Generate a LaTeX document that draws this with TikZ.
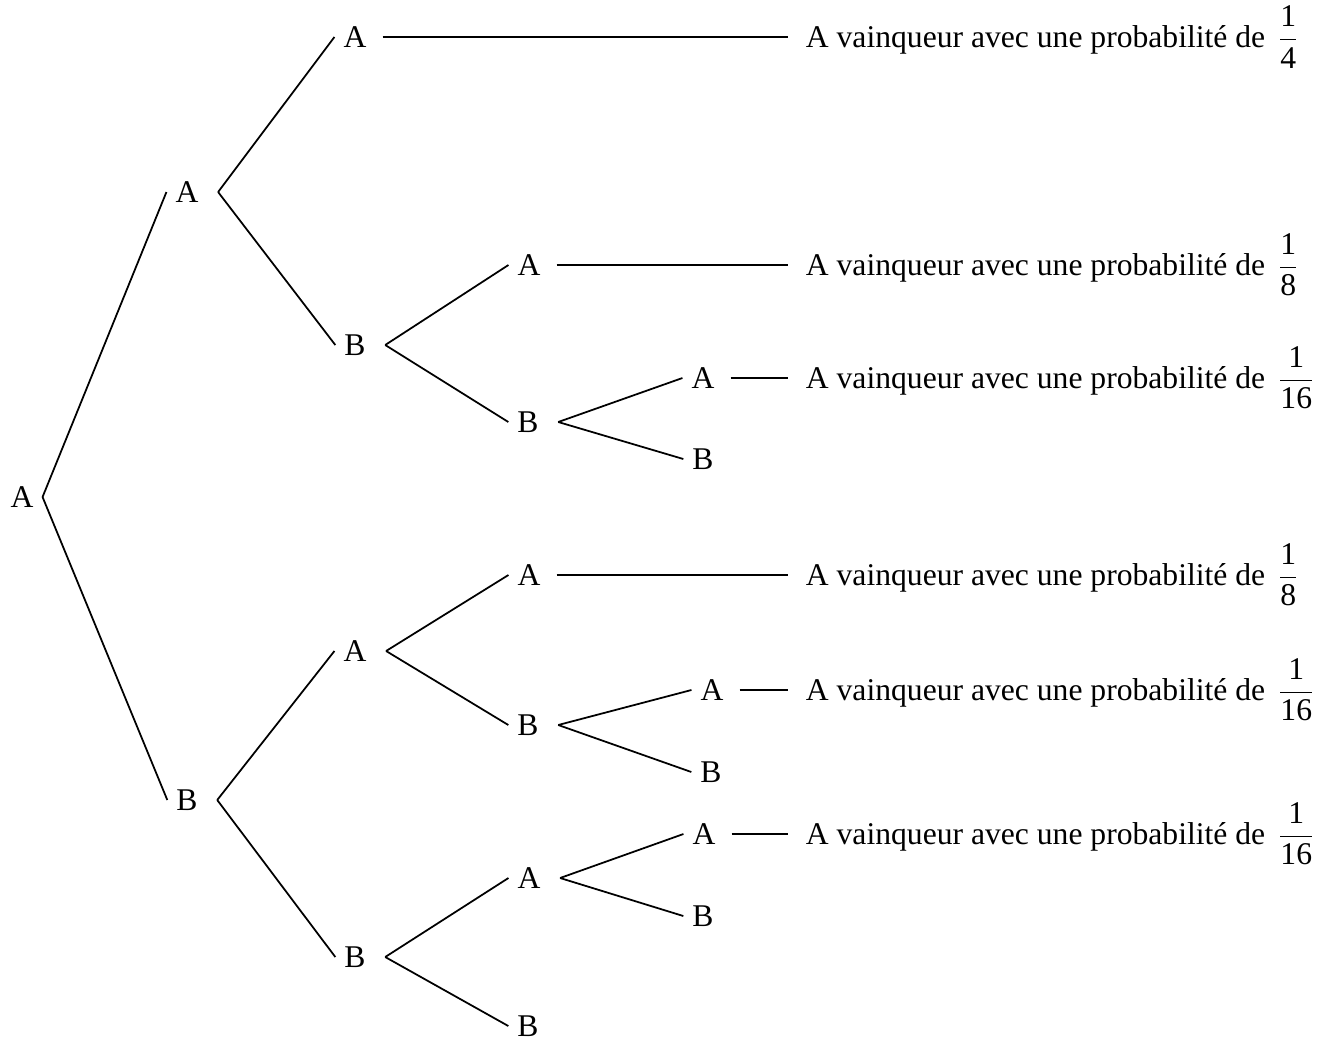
\documentclass[tikz,border=0pt]{standalone}
\usepackage{amsmath}
\usepackage{fontspec}
\setmainfont{Liberation Serif}

\begin{document}
\begin{tikzpicture}[x=0.02cm, y=-0.02cm]
        \tikzset{
            etat/.style={
                inner xsep=5pt,
                inner ysep=1pt,
                font=\fontsize{18}{22}\selectfont
            },
            fin/.style={
                anchor=west,
                inner xsep=10pt,
                font=\fontsize{18}{22}\selectfont
            },
            branche/.style={
                black,
                line width=1pt
            }
        }
        \useasboundingbox (0,0) rectangle (1336,1042);

        %racine et premier match
        \node[etat] (r) at (22,497) {A};
        \node[etat] (a) at (187,192) {A};
        \node[etat] (b) at (187,800) {B};

        %deuxieme match
        \node[etat] (aa) at (355,37) {A};
        \node[etat] (ab) at (355,345) {B};
        \node[etat] (ba) at (355,651) {A};
        \node[etat] (bb) at (355,957) {B};

        %troisieme match
        \node[etat] (aba) at (529,265) {A};
        \node[etat] (abb) at (528,422) {B};
        \node[etat] (baa) at (529,575) {A};
        \node[etat] (bab) at (528,725) {B};
        \node[etat] (bba) at (529,878) {A};
        \node[etat] (bbb) at (528,1026) {B};

        %quatrieme match
        \node[etat] (abba) at (703,378) {A};
        \node[etat] (abbb) at (703,459) {B};
        \node[etat] (baba) at (712,690) {A};
        \node[etat] (babb) at (711,772) {B};
        \node[etat] (bbaa) at (704,834) {A};
        \node[etat] (bbab) at (703,916) {B};

        %resultats
        \node[fin] (f1) at (788,37) {A vainqueur avec une probabilité de~\,$\dfrac{\mbox{1}}{\mbox{4}}$};
        \node[fin] (f2) at (788,265) {A vainqueur avec une probabilité de~\,$\dfrac{\mbox{1}}{\mbox{8}}$};
        \node[fin] (f3) at (788,378) {A vainqueur avec une probabilité de~\,$\dfrac{\mbox{1}}{\mbox{16}}$};
        \node[fin] (f4) at (788,575) {A vainqueur avec une probabilité de~\,$\dfrac{\mbox{1}}{\mbox{8}}$};
        \node[fin] (f5) at (788,690) {A vainqueur avec une probabilité de~\,$\dfrac{\mbox{1}}{\mbox{16}}$};
        \node[fin] (f6) at (788,834) {A vainqueur avec une probabilité de~\,$\dfrac{\mbox{1}}{\mbox{16}}$};

        %branches
        \draw[branche] (r.east) -- (a.west);
        \draw[branche] (r.east) -- (b.west);

        \draw[branche] ([xshift=6pt]a.east) -- (aa.west);
        \draw[branche] ([xshift=6pt]a.east) -- (ab.west);
        \draw[branche] ([xshift=6pt]b.east) -- (ba.west);
        \draw[branche] ([xshift=6pt]b.east) -- (bb.west);

        \draw[branche] ([xshift=6pt]ab.east) -- (aba.west);
        \draw[branche] ([xshift=6pt]ab.east) -- (abb.west);
        \draw[branche] ([xshift=6pt]ba.east) -- (baa.west);
        \draw[branche] ([xshift=6pt]ba.east) -- (bab.west);
        \draw[branche] ([xshift=6pt]bb.east) -- (bba.west);
        \draw[branche] ([xshift=6pt]bb.east) -- (bbb.west);

        \draw[branche] ([xshift=6pt]abb.east) -- (abba.west);
        \draw[branche] ([xshift=6pt]abb.east) -- (abbb.west);
        \draw[branche] ([xshift=6pt]bab.east) -- (baba.west);
        \draw[branche] ([xshift=6pt]bab.east) -- (babb.west);
        \draw[branche] ([xshift=6pt]bba.east) -- (bbaa.west);
        \draw[branche] ([xshift=6pt]bba.east) -- (bbab.west);

        %vers les resultats
        \draw[branche] ([xshift=4pt]aa.east) -- (f1.west);
        \draw[branche] ([xshift=4pt]aba.east) -- (f2.west);
        \draw[branche] ([xshift=4pt]abba.east) -- (f3.west);
        \draw[branche] ([xshift=4pt]baa.east) -- (f4.west);
        \draw[branche] ([xshift=4pt]baba.east) -- (f5.west);
        \draw[branche] ([xshift=4pt]bbaa.east) -- (f6.west);

    \end{tikzpicture}
\end{document}
